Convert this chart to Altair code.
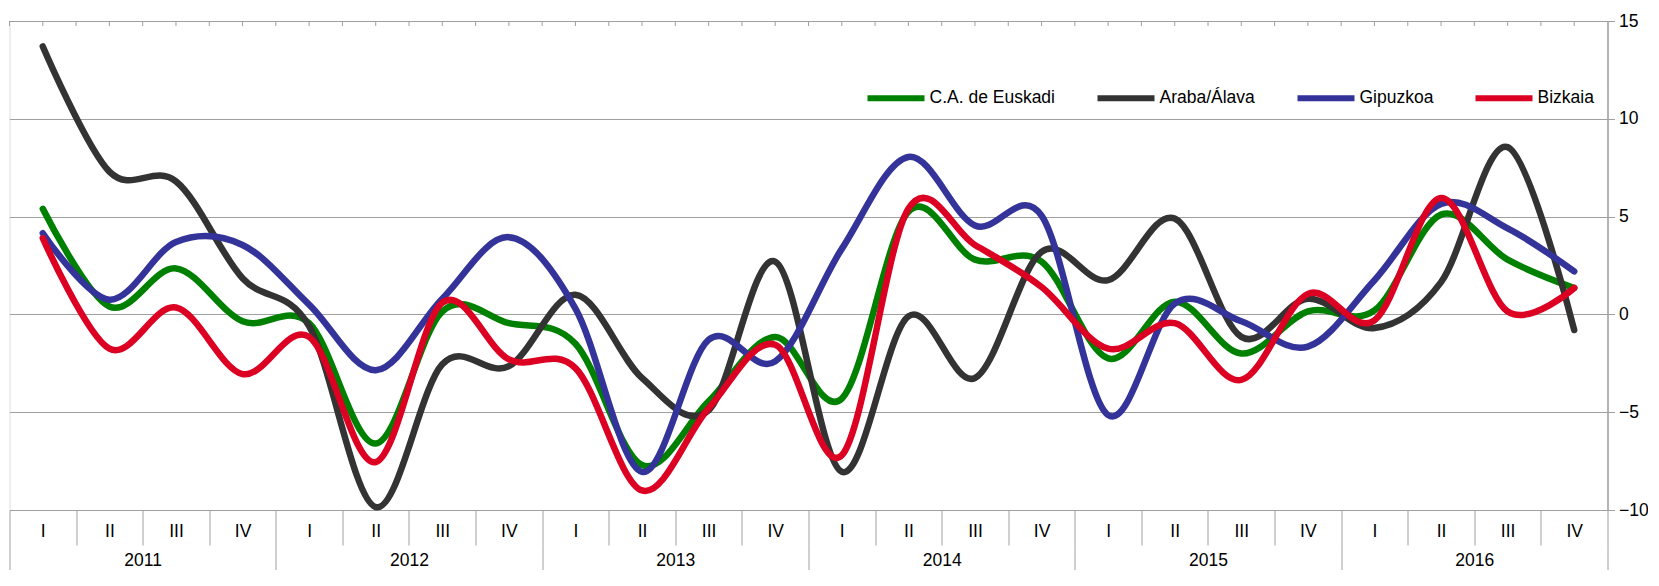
import altair as alt
import pandas as pd

years = ["2011", "2012", "2013", "2014", "2015", "2016"]
quarters = ["I", "II", "III", "IV"]
series = ["C.A. de Euskadi", "Araba/Álava", "Gipuzkoa", "Bizkaia"]
colors = ["#008000", "#333333", "#333399", "#DC0023"]

euskadi = [5.4, 0.4, 2.35, -0.35, -0.45, -6.6, 0.15, -0.45, -1.5, -7.7, -4.45, -1.15,
           -4.3, 5.25, 2.8, 2.7, -2.25, 0.65, -2.0, 0.15, 0.2, 5.1, 2.8, 1.35]
araba = [13.7, 7.3, 6.8, 1.85, -0.6, -9.85, -2.55, -2.65, 1.0, -3.25, -4.9, 2.7,
         -8.05, -0.1, -3.25, 3.2, 1.75, 4.9, -1.15, 0.8, -0.7, 1.65, 8.55, -0.8]
gipuzkoa = [4.15, 0.75, 3.7, 3.55, 0.5, -2.85, 0.8, 3.95, 0.3, -8.05, -1.3, -2.4,
            3.35, 8.05, 4.55, 5.05, -5.15, 0.55, -0.35, -1.65, 1.75, 5.65, 4.4, 2.2]
bizkaia = [3.9, -1.75, 0.35, -3.05, -1.15, -7.55, 0.6, -2.3, -2.75, -9.0, -4.8, -1.55,
           -7.2, 5.4, 3.55, 1.4, -1.75, -0.45, -3.35, 1.05, -0.3, 5.95, 0.15, 1.35]
y_ticks = [-10, -5, 0, 5, 10, 15]

FONT = "Liberation Sans, Arial, sans-serif"
FS = 17.5
GRAY = "#a0a0a0"

keys = [f"{y}-{q}" for y in years for q in quarters]
rows = []
for s, vals in zip(series, [euskadi, araba, gipuzkoa, bizkaia]):
    for k, v in zip(keys, vals):
        rows.append({"serie": s, "q": k, "value": v})
df = pd.DataFrame(rows)

qscale = alt.Scale(type="band", domain=keys, paddingInner=0, paddingOuter=0)
qaxis = alt.Axis(title=None, orient="bottom", labelExpr="split(datum.value,'-')[1]",
                 labelAngle=0, tickBand="extent", tickSize=35, tickColor=GRAY, tickWidth=1,
                 domain=True, domainColor=GRAY, domainWidth=1, labelFont=FONT,
                 labelFontSize=FS, labelColor="#000", labelBaseline="middle",
                 labelPadding=-14, grid=False, labelOverlap=False)

yenc = alt.Y("value:Q", scale=alt.Scale(domain=[-10, 15], nice=False, zero=False),
             axis=alt.Axis(orient="right", values=y_ticks, title=None, grid=True,
                           gridColor=GRAY, gridWidth=1, domainColor=GRAY, domainWidth=1.5,
                           tickColor=GRAY, tickSize=7, labelPadding=4, labelFont=FONT,
                           labelFontSize=FS, labelColor="#000", labelAlign="left",
                           labelBaseline="middle", labelFlush=False))

color = alt.Color("serie:N", scale=alt.Scale(domain=series, range=colors),
                  legend=alt.Legend(title=None, orient="none", legendX=855, legendY=45.5,
                                    direction="horizontal", columns=4, symbolType="stroke",
                                    symbolStrokeWidth=6, symbolSize=3249, labelFont=FONT,
                                    labelFontSize=FS, labelColor="#000", labelOffset=2,
                                    columnPadding=30, labelLimit=400, padding=0))

lines = []
for s in series:
    lines.append(
        alt.Chart(df[df.serie == s]).mark_line(interpolate="cardinal", strokeWidth=6.5,
                                               strokeCap="round", strokeJoin="round")
        .encode(x=alt.X("q:N", scale=qscale, axis=qaxis, bandPosition=0.5, sort=keys),
                y=yenc, color=color)
    )

kdf = pd.DataFrame({"q": keys})
top_c = alt.Chart(kdf).mark_rule(color=GRAY, strokeWidth=1).encode(
    x=alt.X("q:N", scale=qscale, axis=qaxis, bandPosition=0.5, sort=keys),
    y=alt.value(0), y2=alt.value(5))
top_b = alt.Chart(kdf).mark_rule(color=GRAY, strokeWidth=1).encode(
    x=alt.X("q:N", scale=qscale, axis=qaxis, bandPosition=0, sort=keys),
    y=alt.value(0), y2=alt.value(5))

inner = alt.layer(top_c, top_b, *lines)

ydf = pd.DataFrame({"year": years, "value": [0] * len(years)})
year_layer = alt.Chart(ydf).mark_point(opacity=0).encode(
    x=alt.X("year:N", scale=alt.Scale(type="band", domain=years, paddingInner=0, paddingOuter=0),
            axis=alt.Axis(title=None, orient="bottom", offset=35, tickBand="extent", tickSize=25,
                          tickColor=GRAY, tickWidth=1, domain=False, labelAngle=0,
                          labelFont=FONT, labelFontSize=FS, labelColor="#000",
                          labelBaseline="middle", labelPadding=-10, grid=False)),
    y=yenc)

chart = alt.layer(inner, year_layer).resolve_scale(x="independent").properties(
    width=1598, height=489,
    padding={"left": 1.5, "top": 13, "right": 40, "bottom": 60},
    autosize=alt.AutoSizeParams(type="none"),
).configure_view(stroke=GRAY, strokeWidth=1.5).configure(background="white")

chart.save("out.html", embed_options={"renderer": "svg", "actions": False})
